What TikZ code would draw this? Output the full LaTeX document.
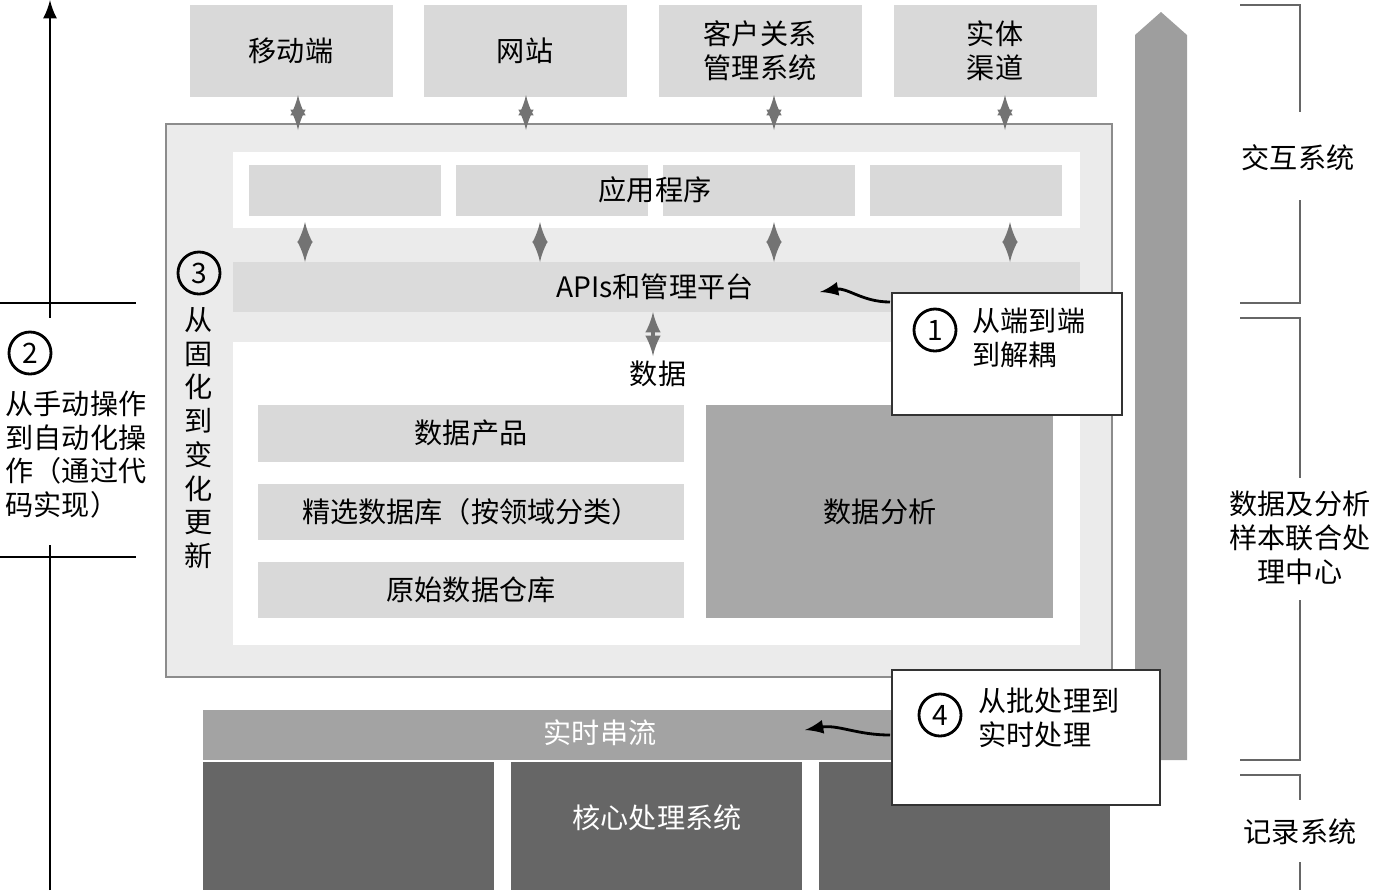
\documentclass[tikz,border=0pt]{standalone}
\usepackage{fontspec}
\setmainfont{Noto Sans CJK SC}
\begin{document}
\begin{tikzpicture}[x=0.01cm,y=-0.01cm,
 lbox/.style={fill=black!15,draw=none},
 dbox/.style={fill=black!58,draw=none},
 mbox/.style={fill=black!34,draw=none},
 txt/.style={font=\fontsize{8}{9.6}\selectfont,align=center,inner sep=0},
 dar/.style={<->,>=latex,black!55,line width=1pt},
 num/.style={circle,draw=black,line width=0.8pt,minimum size=0.42cm,inner sep=0,font=\fontsize{8}{9}\selectfont},
 call/.style={fill=white,draw=black!80,line width=0.8pt}]
\useasboundingbox (0,0) rectangle (1378,890);
% top boxes
\foreach \x/\n/\t in {190/a/移动端,424/b/网站,659/c/客户关系\\管理系统,894/d/实体\\渠道}{
 \fill[black!15] (\x,5) rectangle ++(203,92);
 \node[txt] (\n) at (\x+101,51) {\t};}
% panel
\draw[fill=black!8,draw=black!45] (166,124) rectangle (1112,677);
\fill[white] (233,152) rectangle (1080,228);
\foreach \x in {249,456,663,870}{\fill[black!15] (\x,165) rectangle ++(192,51);}
\node[txt] (app) at (655,190) {应用程序};
\fill[black!14] (233,262) rectangle (1080,312);
\node[txt] (api) at (655,287) {APIs和管理平台};
\fill[white] (233,342) rectangle (1080,645);
\node[txt] (data) at (658,374) {数据};
\fill[black!15] (258,405) rectangle (684,462); \node[txt] (p1) at (471,433) {数据产品};
\fill[black!15] (258,484) rectangle (684,540); \node[txt] (p2) at (471,512) {精选数据库（按领域分类）};
\fill[black!15] (258,562) rectangle (684,618); \node[txt] (p3) at (471,590) {原始数据仓库};
\fill[black!34] (706,405) rectangle (1053,618); \node[txt] (ana) at (880,512) {数据分析};
% arrows
\foreach \x in {298,526,774,1005}{\draw[dar] (\x,95) -- (\x,130);}
\foreach \x in {305,540,774,1010}{\draw[dar] (\x,222) -- (\x,262);}
\draw[dar] (653,312) -- (653,356);
% circle 3
\node[num] (n3) at (199,273) {3};
\node[txt,text width=0.3cm] (v3) at (199,438) {从\\固\\化\\到\\变\\化\\更\\新};
% big right arrow
\fill[black!38] (1135,760) -- (1135,35) -- (1161,12) -- (1187,35) -- (1187,760) -- cycle;
% bottom
\fill[black!36] (203,710) rectangle (1110,760);
\node[txt,text=white] (rt) at (600,733) {实时串流};
\foreach \x in {203,511,819}{\fill[black!60] (\x,762) rectangle ++(291,128);}
\node[txt,text=white] (core) at (657,818) {核心处理系统};
% callouts
\draw[call] (892,293) rectangle (1122,415);
\node[num] (n1) at (935,330) {1};
\node[txt,align=left,anchor=west] (c1) at (972,338) {从端到端\\到解耦};
\coordinate (c1s) at (890,302);
\draw[->,>=latex,line width=0.8pt] (c1s) to[out=180,in=10] (820,292);
\draw[call] (892,670) rectangle (1160,805);
\node[num] (n4) at (940,715) {4};
\node[txt,align=left,anchor=west] (c4) at (978,718) {从批处理到\\实时处理};
\coordinate (c4s) at (890,735);
\draw[->,>=latex,line width=0.8pt] (c4s) to[out=180,in=10] (805,730);
% left
\draw[->,>=latex,line width=0.8pt] (50,890) -- (50,0);
\draw[line width=0.8pt] (0,303) -- (136,303) (0,557) -- (136,557);
\fill[white] (0,318) rectangle (160,545);
\node[num] (n2) at (30,353) {2};
\node[txt,align=left,anchor=north west] (t2) at (5,390) {从手动操作\\到自动化操\\作（通过代\\码实现）};
% right brackets
\draw[black!60,line width=0.6pt] (1240,5) -- (1300,5) -- (1300,112) (1300,200) -- (1300,303) -- (1240,303);
\draw[black!60,line width=0.6pt] (1240,318) -- (1300,318) -- (1300,478) (1300,600) -- (1300,760) -- (1240,760);
\draw[black!60,line width=0.6pt] (1240,775) -- (1300,775) -- (1300,800) (1300,862) -- (1300,890);
\node[txt] (s1) at (1298,158) {交互系统};
\node[txt] (s2) at (1300,538) {数据及分析\\样本联合处\\理中心};
\node[txt] (s3) at (1300,832) {记录系统};
\end{tikzpicture}
\end{document}
